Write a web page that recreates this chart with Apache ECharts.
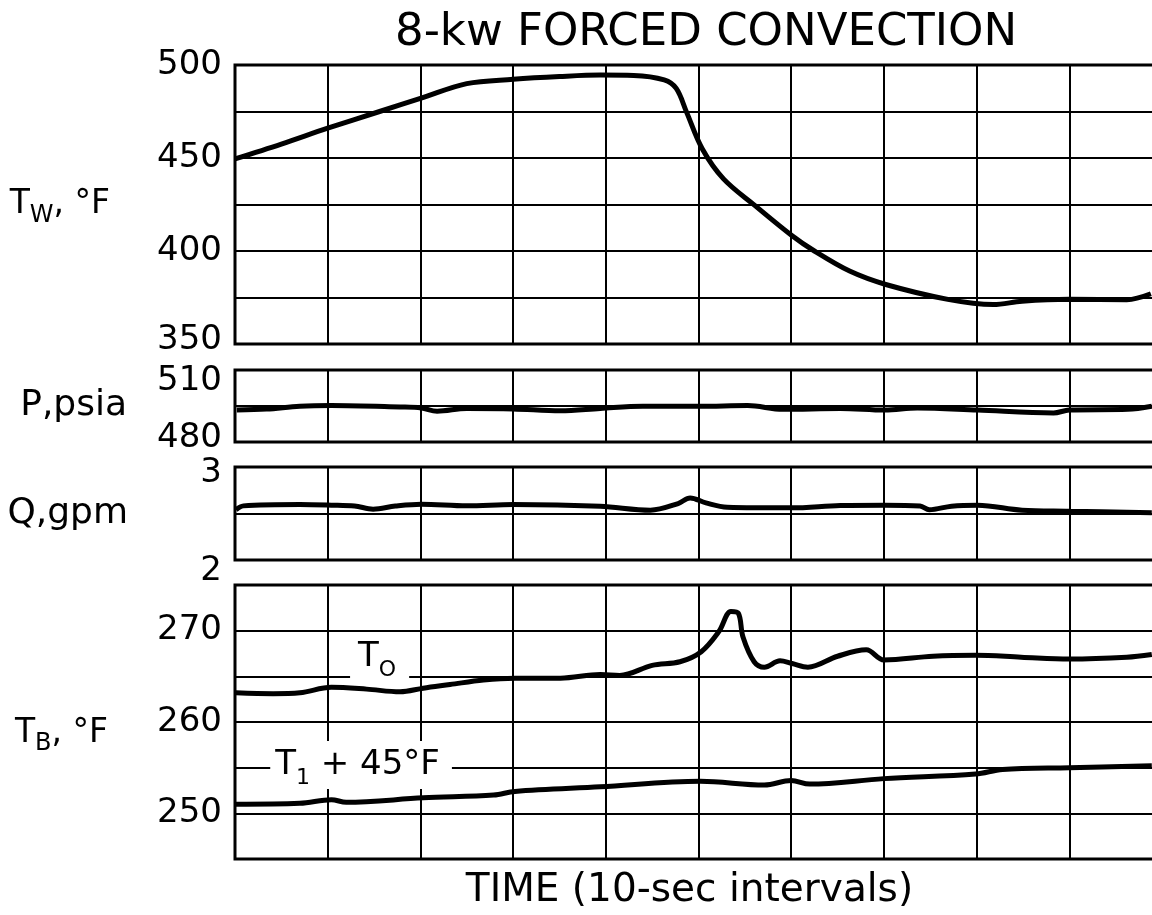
<!DOCTYPE html>
<html><head><meta charset="utf-8">
<script src="https://cdn.jsdelivr.net/npm/echarts@6/dist/echarts.min.js"></script>
<style>html,body{margin:0;padding:0;background:#fff}#c{width:1152px;height:915px}</style>
</head><body><div id="c"></div>
<script>
// ---- data (time in 10-sec intervals) ----
const twTime = [0, 0.5, 1.0, 1.56, 2.0, 2.5, 3.0, 3.5, 3.94, 4.3, 4.63, 4.76, 4.87, 5.04, 5.27, 5.61, 6.01, 6.25, 6.63, 7.02, 7.69, 8.18, 8.49, 9.0, 9.62, 9.88];
const twValues = [449.5, 457.5, 466, 475, 482, 490, 492.3, 493.8, 494.6, 494.4, 492, 487.4, 474.8, 455, 438.8, 424.4, 408.2, 400, 389.2, 382, 374, 371.2, 373, 374, 373.8, 377];

const pTime = [0.02, 0.34, 0.70, 1.04, 1.78, 2.01, 2.18, 2.50, 3.00, 3.51, 3.94, 4.40, 5.01, 5.53, 5.91, 6.53, 7.01, 7.36, 8.01, 8.83, 9.00, 9.63, 9.89];
const pValues = [493.3, 493.7, 494.9, 495.2, 494.6, 494.2, 492.8, 494.0, 493.8, 493.0, 494.0, 494.9, 494.9, 495.2, 493.6, 494.0, 493.3, 494.2, 493.3, 492.1, 493.3, 493.6, 494.9];

const qTime = [0.01, 0.09, 0.70, 1.04, 1.29, 1.49, 1.73, 2.01, 2.50, 3.00, 3.94, 4.48, 4.78, 4.91, 5.08, 5.31, 6.00, 6.53, 7.01, 7.39, 7.49, 7.73, 8.01, 8.49, 9.00, 9.89];
const qValues = [2.54, 2.582, 2.597, 2.59, 2.58, 2.547, 2.58, 2.60, 2.582, 2.597, 2.578, 2.536, 2.607, 2.668, 2.614, 2.568, 2.561, 2.586, 2.59, 2.58, 2.54, 2.579, 2.59, 2.536, 2.525, 2.507];

const toTime = [0.01, 0.41, 0.70, 1.04, 1.42, 1.78, 2.03, 2.32, 2.68, 3.02, 3.51, 3.94, 4.15, 4.50, 4.80, 5.03, 5.22, 5.35, 5.43, 5.48, 5.60, 5.71, 5.88, 6.01, 6.18, 6.50, 6.81, 7.00, 7.53, 7.99, 8.48, 9.00, 9.62, 9.89];
const toValues = [263.2, 263.1, 263.2, 263.8, 263.6, 263.3, 263.7, 264.1, 264.6, 264.8, 264.8, 265.2, 265.1, 266.2, 266.6, 267.7, 269.9, 272.1, 271.9, 269.3, 266.6, 266.0, 266.7, 266.4, 266.0, 267.2, 267.9, 266.8, 267.2, 267.3, 267.1, 266.9, 267.1, 267.4];

const t1Time = [0.01, 0.70, 1.04, 1.20, 2.03, 2.79, 3.02, 3.94, 5.02, 5.71, 6.00, 6.20, 7.00, 7.99, 8.28, 9.00, 9.89];
const t1Values = [251.0, 251.1, 251.5, 251.2, 251.7, 252.0, 252.4, 252.9, 253.5, 253.1, 253.6, 253.2, 253.8, 254.3, 254.8, 255.0, 255.2];

const twTickLabels = [350, 400, 450, 500];
const pTickLabels = [480, 510];
const qTickLabels = [2, 3];
const tbTickLabels = [250, 260, 270];

// ---- styling ----
const FONT = 'DejaVu Sans';
const INK = '#000';
const pair = (xs, ys) => xs.map((x, i) => [x, ys[i]]);

const grids = [
  { top: 65, height: 279 },
  { top: 370, height: 72 },
  { top: 467, height: 93 },
  { top: 585, height: 274 }
].map(g => Object.assign(g, {
  left: 235, width: 927, show: true, borderColor: INK, borderWidth: 3,
  backgroundColor: 'transparent', containLabel: false, outerBoundsMode: 'none'
}));

const xAxes = grids.map((g, i) => {
  const ax = {
    type: 'value', gridIndex: i, min: 0, max: 10, interval: 1,
    axisLine: { show: false }, axisTick: { show: false }, axisLabel: { show: false },
    splitLine: { show: true, lineStyle: { color: INK, width: 2 } }
  };
  if (i === 3) {
    ax.name = 'TIME (10-sec intervals)';
    ax.nameLocation = 'middle';
    ax.nameGap = 12;
    ax.nameTextStyle = { fontFamily: FONT, fontSize: 39, color: INK, padding: [0, 18, 0, 0] };
  }
  return ax;
});

function yAxis(i, min, max, interval, labels, name, nameGap, nameStyle, richMap) {
  return {
    type: 'value', gridIndex: i, min, max, interval,
    axisLine: { show: false }, axisTick: { show: false },
    splitLine: { show: true, lineStyle: { color: INK, width: 2 } },
    axisLabel: {
      margin: 13, fontFamily: FONT, fontSize: 34, color: INK,
      formatter: v => {
        const hit = labels.find(l => Math.abs(l - v) < 1e-9);
        if (hit === undefined) return '';
        const key = richMap && richMap[hit];
        return key ? '{' + key + '|' + hit + '}' : String(hit);
      },
      rich: {
        dn: { fontFamily: FONT, fontSize: 34, color: INK, padding: [22, 0, 0, 0] },
        dn2: { fontFamily: FONT, fontSize: 34, color: INK, padding: [12, 0, 0, 0] },
        up: { fontFamily: FONT, fontSize: 34, color: INK, padding: [0, 0, 8, 0] }
      }
    },
    name, nameLocation: 'middle', nameRotate: 0, nameGap,
    nameTextStyle: nameStyle
  };
}

const subRich = {
  m: { fontFamily: FONT, fontSize: 33, color: INK },
  s: { fontFamily: FONT, fontSize: 24, color: INK, padding: [22, 0, 0, 0] }
};

const yAxes = [
  yAxis(0, 350, 500, 25, twTickLabels, '{m|T}{s|W}{m|, °F}', 125,
    { fontFamily: FONT, fontSize: 33, color: INK, rich: subRich }, { 350: 'up' }),
  yAxis(1, 480, 510, 15, pTickLabels, 'P,psia', 108,
    { fontFamily: FONT, fontSize: 36, color: INK, padding: [13, 0, 0, 0] }, { 510: 'dn', 480: 'up' }),
  yAxis(2, 2, 3, 0.5, qTickLabels, 'Q,gpm', 107,
    { fontFamily: FONT, fontSize: 36, color: INK, padding: [22, 0, 0, 0] }, { 3: 'dn2', 2: 'dn' }),
  yAxis(3, 245, 275, 5, tbTickLabels, '{m|T}{s|B}{m|, °F}', 127,
    { fontFamily: FONT, fontSize: 33, color: INK, rich: subRich, padding: [22, 0, 0, 0] }, null)
];

const lineStyle = { color: INK, width: 5 };
function line(i, name, xs, ys, extra) {
  return Object.assign({
    type: 'line', name, xAxisIndex: i, yAxisIndex: i,
    data: pair(xs, ys), smooth: 0.35, showSymbol: false, symbol: 'none',
    lineStyle, itemStyle: { color: INK }, z: 3, animation: false
  }, extra || {});
}

const inlineRich = {
  m: { fontFamily: FONT, fontSize: 34, color: INK },
  s: { fontFamily: FONT, fontSize: 22, color: INK, padding: [26, 0, 0, 0] }
};
function inlineLabel(coord, text, pad) {
  return {
    z: 1, symbol: 'circle', symbolSize: 1, itemStyle: { color: 'rgba(0,0,0,0)' },
    label: {
      show: true, position: 'inside', formatter: text, color: INK,
      backgroundColor: '#fff', padding: pad, rich: inlineRich
    },
    data: [{ coord, value: 0 }]
  };
}

const option = {
  backgroundColor: '#fff',
  animation: false,
  title: {
    text: '8-kw FORCED CONVECTION', left: 390, top: 6,
    textStyle: { fontFamily: FONT, fontSize: 45, fontWeight: 'normal', color: INK }
  },
  grid: grids,
  xAxis: xAxes,
  yAxis: yAxes,
  series: [
    line(0, 'Tw', twTime, twValues),
    line(1, 'P', pTime, pValues),
    line(2, 'Q', qTime, qValues),
    line(3, 'To', toTime, toValues, { markPoint: inlineLabel([1.56, 266.9], '{m|T}{s|O}', [0, 13, 4, 8]) }),
    line(3, 'Ti', t1Time, t1Values, { markPoint: inlineLabel([1.36, 255.3], '{m|T}{s|1}{m| + 45°F}', [0, 12, 0, 5]) })
  ]
};

const chart = echarts.init(document.getElementById('c'), null, { renderer: 'canvas' });
chart.setOption(option);
</script></body></html>
